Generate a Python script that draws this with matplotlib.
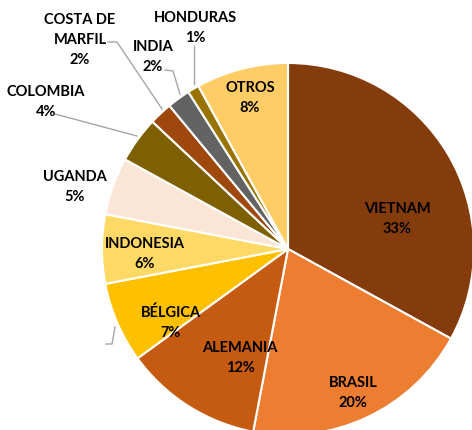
import matplotlib.pyplot as plt

paises = ['VIETNAM', 'BRASIL', 'ALEMANIA', 'BÉLGICA', 'INDONESIA', 'UGANDA',
          'COLOMBIA', 'COSTA DE\nMARFIL', 'INDIA', 'HONDURAS', 'OTROS']
porcentajes = [33, 20, 12, 7, 6, 5, 4, 2, 2, 1, 8]
colores = ['#843C0C', '#ED7D31', '#C55A11', '#FFC000', '#FFD966', '#FBE5D6',
           '#7F6000', '#9E480E', '#636363', '#997300', '#FFCC66']

# label centres in pixel coords (y measured from top)
pos_etiquetas = [(397, 219), (353, 393), (240, 358), (171, 323), (145, 254),
                 (75, 187), (46, 102), (80, 40), (153, 57), (195, 28), (250, 98)]

W, H = 472, 431
fig = plt.figure(figsize=(W / 100, H / 100), dpi=100)
ax = fig.add_axes([0, 0, 1, 1])

ax.pie(porcentajes, colors=colores, startangle=90, counterclock=False,
       center=(288, H - 250), radius=186, frame=True,
       wedgeprops=dict(edgecolor='white', linewidth=1.5))
ax.set_xlim(0, W)
ax.set_ylim(0, H)
ax.set_aspect('equal')
ax.axis('off')

for nombre, p, (x, y) in zip(paises, porcentajes, pos_etiquetas):
    ax.text(x, H - y, f'{nombre}\n{p}%', ha='center', va='center',
            fontsize=10.5, fontweight='bold', family='Lato',
            linespacing=1.55, color='black')

# leader lines
gris = '#A6A6A6'
lineas = [
    [(55, 115), (137, 137)],
    [(108, 43), (117, 43), (162, 110)],
    [(165, 71), (173, 72), (180, 95)],
    [(194, 47), (194, 85)],
    [(106, 345), (112, 345), (115, 328)],
]
for pts in lineas:
    xs = [p[0] for p in pts]
    ys = [H - p[1] for p in pts]
    ax.plot(xs, ys, color=gris, linewidth=1)

fig.savefig('out.png', dpi=100)
